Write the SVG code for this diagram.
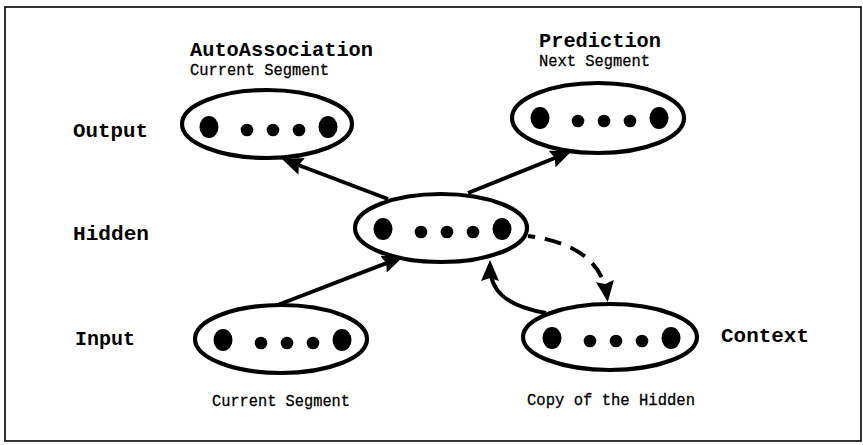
<svg xmlns="http://www.w3.org/2000/svg" width="863" height="445" viewBox="0 0 863 445">
<style>
.frame{fill:none;stroke:#000;stroke-width:1.6}
.layer{fill:#fff;stroke:#000;stroke-width:4.2}
.dot{fill:#000}
.big{font-family:"Liberation Mono",monospace;font-weight:bold;font-size:21px;fill:#000}
.small{font-family:"Liberation Mono",monospace;font-size:17px;fill:#000;stroke:#000;stroke-width:0.3}
.conn{fill:none;stroke:#000;stroke-width:4}
.dash{stroke-dasharray:17 10;stroke-dashoffset:10}
</style>
<defs>
<marker id="ah" viewBox="0 0 21 18" refX="15" refY="9" markerWidth="21" markerHeight="18" markerUnits="userSpaceOnUse" orient="auto">
<path d="M0,0 L21,9 L0,18 L3,9 z" fill="#000"/>
</marker>
<g id="dots">
<ellipse cx="-58" cy="0" rx="9.5" ry="11"/>
<circle cx="-20" cy="3" r="6.3"/>
<circle cx="6" cy="3" r="6.3"/>
<circle cx="32" cy="3" r="6.3"/>
<ellipse cx="61" cy="0" rx="9.5" ry="11"/>
</g>
</defs>
<rect class="frame" x="5" y="7" width="856" height="434"/>

<g id="connectors">
<path class="conn" d="M388,199 L287.6,161" marker-end="url(#ah)"/>
<path class="conn" d="M468,193 L566,153.5" marker-end="url(#ah)"/>
<path class="conn" d="M275,306 L397.5,258.8" marker-end="url(#ah)"/>
<path class="conn" d="M546,313 C505,306 490,290 490,266" marker-end="url(#ah)"/>
<path class="conn dash" d="M528,236 Q600,245 607,296" marker-end="url(#ah)"/>
</g>

<g id="output">
<ellipse class="layer" cx="267" cy="124" rx="85" ry="34"/>
<use href="#dots" x="267" y="127" class="dot"/>
<text class="big" x="73" y="137" textLength="75" lengthAdjust="spacingAndGlyphs">Output</text>
<text class="big" x="190" y="56" textLength="183" lengthAdjust="spacingAndGlyphs">AutoAssociation</text>
<text class="small" x="190" y="75" textLength="139" lengthAdjust="spacingAndGlyphs">Current Segment</text>
</g>

<g id="prediction">
<ellipse class="layer" cx="598" cy="118" rx="86" ry="35"/>
<use href="#dots" x="598" y="118" class="dot"/>
<text class="big" x="539" y="47" textLength="122" lengthAdjust="spacingAndGlyphs">Prediction</text>
<text class="small" x="539" y="66" textLength="111" lengthAdjust="spacingAndGlyphs">Next Segment</text>
</g>

<g id="hidden">
<ellipse class="layer" cx="441" cy="228" rx="86" ry="34"/>
<use href="#dots" x="441" y="229" class="dot"/>
<text class="big" x="73" y="240" textLength="76" lengthAdjust="spacingAndGlyphs">Hidden</text>
</g>

<g id="input">
<ellipse class="layer" cx="281" cy="339" rx="86" ry="34"/>
<use href="#dots" x="281" y="340" class="dot"/>
<text class="big" x="75" y="345" textLength="60" lengthAdjust="spacingAndGlyphs">Input</text>
<text class="small" x="212" y="406" textLength="138" lengthAdjust="spacingAndGlyphs">Current Segment</text>
</g>

<g id="context">
<ellipse class="layer" cx="610" cy="337" rx="87" ry="33"/>
<use href="#dots" x="610" y="338" class="dot"/>
<text class="big" x="721" y="342" textLength="88" lengthAdjust="spacingAndGlyphs">Context</text>
<text class="small" x="527" y="405" textLength="168" lengthAdjust="spacingAndGlyphs">Copy of the Hidden</text>
</g>
</svg>
